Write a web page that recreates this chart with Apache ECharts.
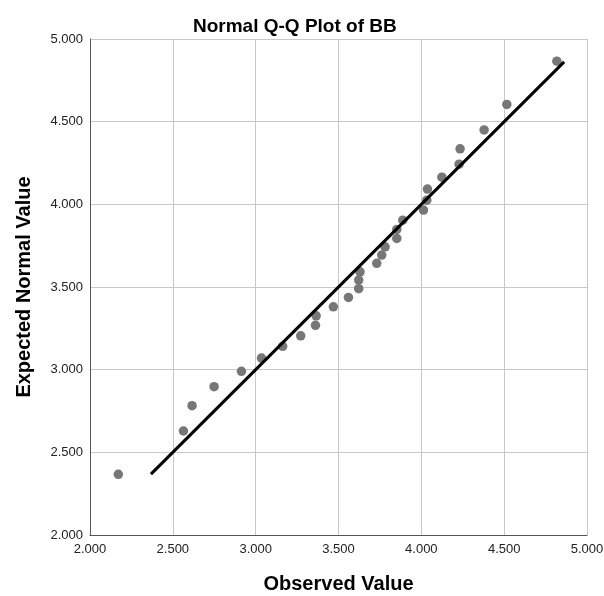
<!DOCTYPE html>
<html>
<head>
<meta charset="utf-8">
<script src="https://cdn.jsdelivr.net/npm/echarts@6/dist/echarts.min.js"></script>
<style>html,body{margin:0;padding:0;background:#fff}#c{width:604px;height:596px}</style>
</head>
<body>
<div id="c"></div>
<script>
const observed = [4.818, 4.516, 4.379, 4.234, 4.228, 4.124, 4.037, 4.033, 4.013, 3.888,
  3.852, 3.852, 3.781, 3.761, 3.731, 3.630, 3.622, 3.622, 3.560, 3.469,
  3.365, 3.361, 3.272, 3.163, 3.035, 2.914, 2.749, 2.616, 2.564, 2.171];
const expected = [4.866, 4.604, 4.450, 4.336, 4.243, 4.164, 4.092, 4.025, 3.965, 3.904,
  3.848, 3.794, 3.743, 3.693, 3.643, 3.592, 3.542, 3.490, 3.437, 3.380,
  3.326, 3.268, 3.205, 3.141, 3.070, 2.990, 2.897, 2.782, 2.629, 2.367];
const refLine = [2.368, 4.862];
const xTicks = [2.0, 2.5, 3.0, 3.5, 4.0, 4.5, 5.0];
const yTicks = [2.0, 2.5, 3.0, 3.5, 4.0, 4.5, 5.0];

const font = '"Liberation Sans", Arial, sans-serif';
const chart = echarts.init(document.getElementById('c'), null, {renderer: 'canvas'});
chart.setOption({
  animation: false,
  backgroundColor: '#fff',
  title: {
    text: 'Normal Q-Q Plot of BB',
    left: 188, top: 12,
    textStyle: {fontFamily: font, fontSize: 19, fontWeight: 'bold', color: '#000'}
  },
  grid: {left: 90, right: 17, top: 39, bottom: 61, containLabel: false, outerBoundsMode: 'none'},
  xAxis: {
    type: 'value', min: xTicks[0], max: xTicks[xTicks.length - 1], interval: 0.5,
    name: 'Observed Value', nameLocation: 'middle', nameGap: 39,
    nameTextStyle: {fontFamily: font, fontSize: 20, fontWeight: 'bold', color: '#000'},
    axisLine: {show: true, lineStyle: {color: '#555', width: 1}},
    axisTick: {show: false},
    splitLine: {show: true, lineStyle: {color: '#c8c8c8', width: 1}},
    axisLabel: {fontFamily: font, fontSize: 13, color: '#222', margin: 8,
      formatter: v => v.toFixed(3)}
  },
  yAxis: {
    type: 'value', min: yTicks[0], max: yTicks[yTicks.length - 1], interval: 0.5,
    name: 'Expected Normal Value', nameLocation: 'middle', nameGap: 56,
    nameTextStyle: {fontFamily: font, fontSize: 20, fontWeight: 'bold', color: '#000'},
    axisLine: {show: true, lineStyle: {color: '#555', width: 1}},
    axisTick: {show: false},
    splitLine: {show: true, lineStyle: {color: '#c8c8c8', width: 1}},
    axisLabel: {fontFamily: font, fontSize: 13, color: '#222', margin: 7,
      formatter: v => v.toFixed(3)}
  },
  series: [
    {
      type: 'scatter',
      data: observed.map((x, i) => [x, expected[i]]),
      symbolSize: 9.5,
      itemStyle: {color: '#777777', opacity: 1},
      z: 2
    },
    {
      type: 'line',
      data: refLine.map(v => [v, v]),
      symbol: 'none',
      lineStyle: {color: '#000', width: 3},
      z: 3
    }
  ]
});
</script>
</body>
</html>
